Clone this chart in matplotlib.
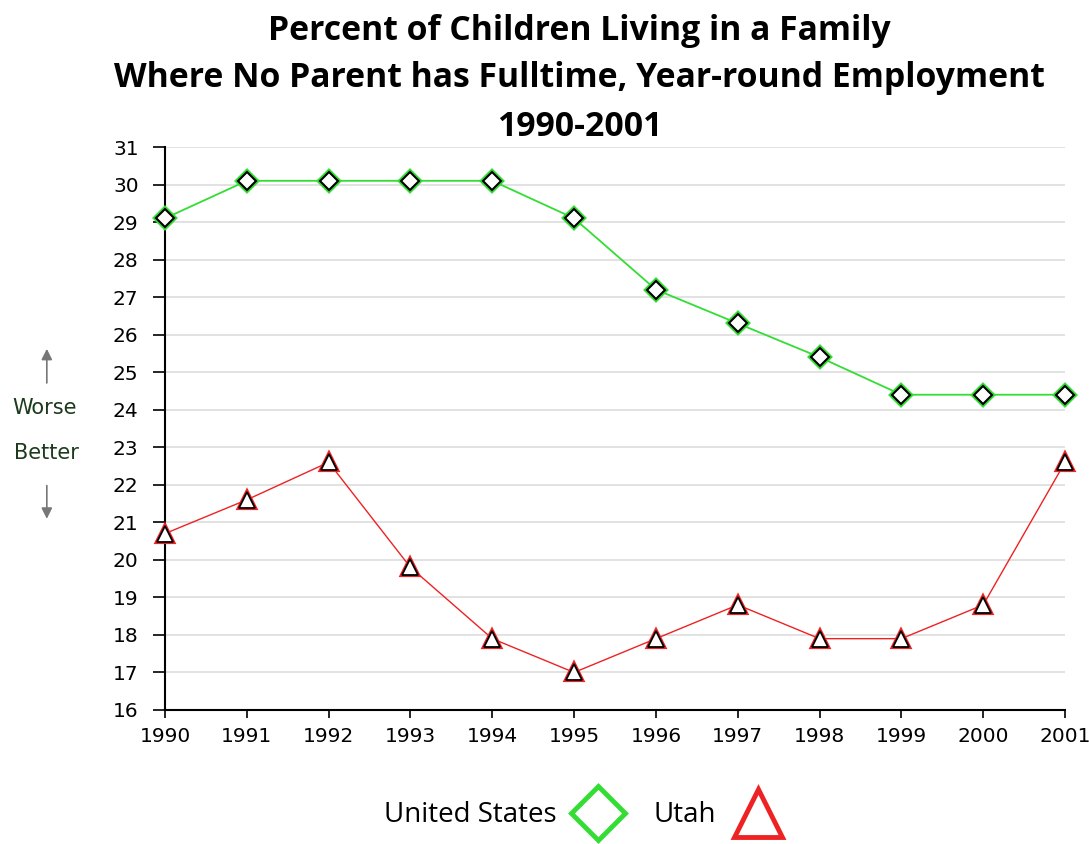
"""
Percent of children living in a family where no parent has fulltime,
year-round employment: United States vs Utah, 1990-2001.
"""
import matplotlib
matplotlib.use("Agg")
import matplotlib.pyplot as plt
from matplotlib.lines import Line2D

years = [1990, 1991, 1992, 1993, 1994, 1995, 1996, 1997, 1998, 1999, 2000, 2001]
us_values = [29.1, 30.1, 30.1, 30.1, 30.1, 29.1, 27.2, 26.3, 25.4, 24.4, 24.4, 24.4]
utah_values = [20.7, 21.6, 22.6, 19.8, 17.9, 17.0, 17.9, 18.8, 17.9, 17.9, 18.8, 22.6]
y_ticks = list(range(16, 32))

title_lines = [
    "Percent of Children Living in a Family",
    "Where No Parent has Fulltime, Year-round Employment",
    "1990-2001",
]

GREEN = "#33dd33"
RED = "#ee2222"

plt.rcParams["font.family"] = ["DejaVu Sans"]

fig = plt.figure(figsize=(10.89, 8.44), dpi=100)
ax = fig.add_axes([0.1515, 0.1588, 0.8265, 0.667])

# series lines with outlined markers
ax.plot(years, us_values, color=GREEN, lw=1.3, zorder=3, clip_on=False)
ax.plot(years, us_values, ls="none", marker="D", ms=10, mfc="white",
        mec=GREEN, mew=3.0, zorder=4, clip_on=False)
ax.plot(years, us_values, ls="none", marker="D", ms=9, mfc="white",
        mec="black", mew=1.5, zorder=5, clip_on=False)

ax.plot(years, utah_values, color=RED, lw=1.0, zorder=3, clip_on=False)
ax.plot(years, utah_values, ls="none", marker="^", ms=12, mfc="white",
        mec=RED, mew=3.0, zorder=4, clip_on=False)
ax.plot(years, utah_values, ls="none", marker="^", ms=11, mfc="white",
        mec="black", mew=1.3, zorder=5, clip_on=False)

ax.set_xlim(1990, 2001)
ax.set_ylim(16, 31)
ax.set_xticks(years)
ax.set_yticks(y_ticks)
ax.tick_params(axis="both", labelsize=14.5, colors="black", width=1.2)
ax.tick_params(axis="y", length=9, pad=10)
ax.tick_params(axis="x", length=6, pad=6)
ax.yaxis.grid(True, color="#dddddd", lw=1.2)
ax.set_axisbelow(True)
for side in ["top", "right"]:
    ax.spines[side].set_visible(False)
for side in ["left", "bottom"]:
    ax.spines[side].set_linewidth(1.5)

# title
title_y = [0.963, 0.908, 0.849]
for text, y in zip(title_lines, title_y):
    fig.text(0.532, y, text, ha="center", va="center", fontsize=24.3,
             fontweight="bold", family=["Open Sans", "DejaVu Sans"])

# worse / better annotation
fig.text(0.041, 0.516, "Worse", ha="center", va="center", fontsize=15,
         color="#1c3a1c")
fig.text(0.043, 0.463, "Better", ha="center", va="center", fontsize=15,
         color="#1c3a1c")
arrow_style = dict(arrowstyle="-|>", color="#777777", lw=1.2, mutation_scale=16)
ax.annotate("", xy=(0.043, 0.590), xytext=(0.043, 0.543),
            xycoords="figure fraction", textcoords="figure fraction",
            arrowprops=arrow_style, annotation_clip=False)
ax.annotate("", xy=(0.043, 0.382), xytext=(0.043, 0.428),
            xycoords="figure fraction", textcoords="figure fraction",
            arrowprops=arrow_style, annotation_clip=False)

# legend
handles = [
    Line2D([], [], ls="none", marker="D", ms=28, mfc="white", mec=GREEN, mew=3.5),
    Line2D([], [], ls="none", marker="^", ms=34, mfc="white", mec=RED, mew=3.5),
]
leg = ax.legend(handles, ["United States", "Utah"], loc="center",
                bbox_to_anchor=(0.537, 0.034), bbox_transform=fig.transFigure,
                ncol=2, frameon=False, markerfirst=False, handlelength=2.0,
                columnspacing=1.0, handletextpad=0.5,
                prop={"family": ["Open Sans", "DejaVu Sans"], "size": 20})

fig.savefig("out.png", dpi=100)
